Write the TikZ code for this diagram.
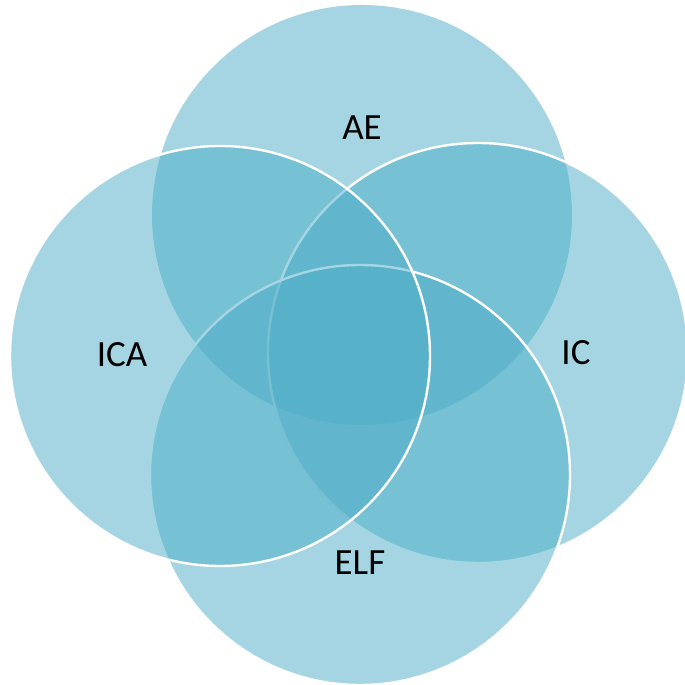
\documentclass[tikz,border=0pt]{standalone}
\usepackage{fontspec}
\setmainfont{Carlito}
\usepackage{xcolor}
\usepackage{tikz}
\usetikzlibrary{shapes.geometric, positioning, backgrounds}
\definecolor{vennBlue}{HTML}{4BACC6}

\begin{document}
\begin{tikzpicture}[
    x=1pt, y=1pt,
    venn/.style={circle, fill=vennBlue, fill opacity=0.5, inner sep=0pt,
                 minimum size=420pt, draw=white, line width=2.4pt},
    tag/.style={font=\fontsize{37}{40}\selectfont, text=black},
]
\useasboundingbox (0,0) rectangle (685,685);

% Circles, clockwise from the top
\node[venn, draw=none] (ae) at (362,470) {};
\node[venn] (ic) at (478,332) {};
\node[venn] (elf) at (360,210) {};
\node[venn] (ica) at (220,329) {};

% Labels
\node[tag] (aelabel) at (362,557) {AE};
\node[tag] (iclabel) at (576,332) {IC};
\node[tag] (elflabel) at (360,122) {ELF};
\node[tag] (icalabel) at (122,330) {ICA};
\end{tikzpicture}
\end{document}
